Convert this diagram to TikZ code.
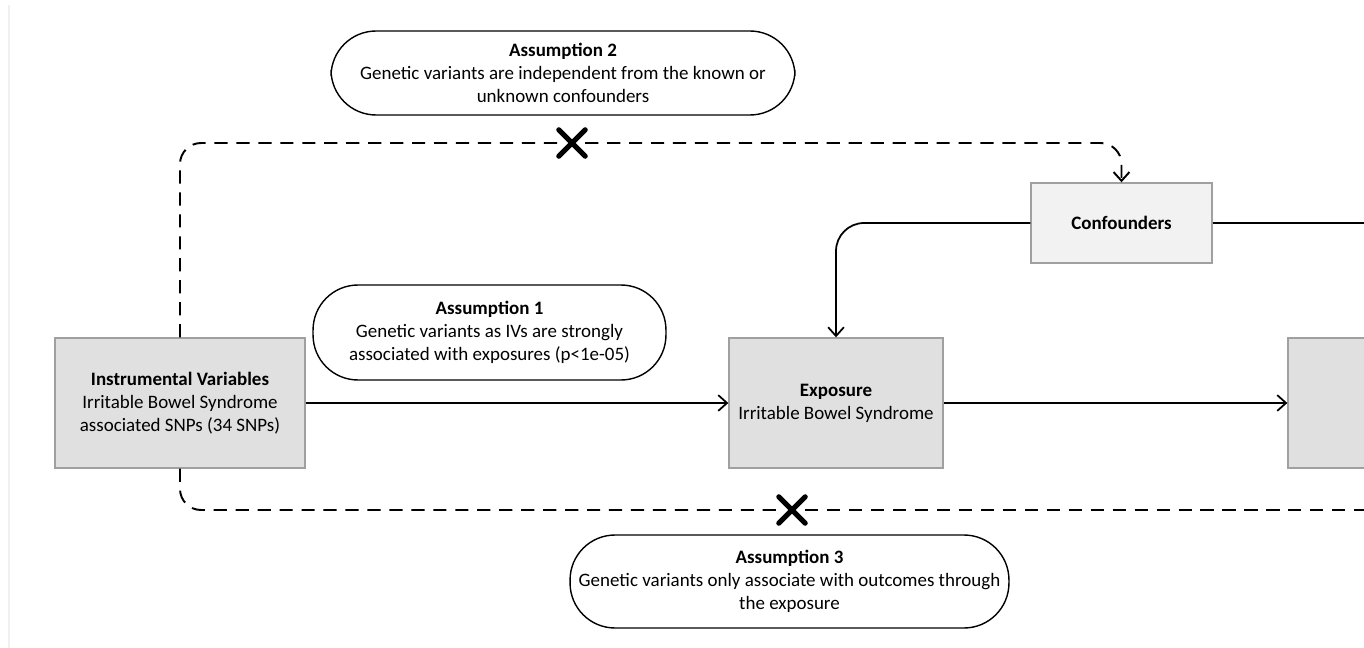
\documentclass[tikz,border=0pt]{standalone}
\usepackage{fontspec}
\setmainfont{Carlito}
\usepackage{tikz}
\usetikzlibrary{shapes.misc, arrows.meta, positioning, calc}
\definecolor{boxgray}{RGB}{224,224,224}
\definecolor{lightbox}{RGB}{242,242,242}
\definecolor{edgegray}{RGB}{160,160,160}

\begin{document}
\begin{tikzpicture}[x=0.02cm, y=-0.02cm, font=\fontsize{10.8}{13.2}\selectfont,
    varbox/.style={draw=edgegray, line width=0.8pt, fill=boxgray, align=center, inner sep=0pt},
    assumption/.style={draw, rectangle, rounded corners=0.9cm, line width=0.8pt, fill=white, align=center, inner sep=0pt},
    solidarrow/.style={line width=1pt, -{Straight Barb[length=5pt, width=9pt]}},
    dashline/.style={line width=1.1pt, dash pattern=on 7.5pt off 5pt, rounded corners=12pt},
    xmark/.style={draw, cross out, line width=3pt, line cap=round, minimum size=0.42cm, inner sep=0pt}]
    \useasboundingbox (0,0) rectangle (1364,648);
    \clip (0,0) rectangle (1364,648);
    % Page edge
    \draw[gray!12, line width=0.6pt] (9,5) -- (9,648);

    % Boxes
    \node[varbox, minimum width=5cm, minimum height=2.6cm] (iv) at (180,403)
        {\textbf{Instrumental Variables}\\Irritable Bowel Syndrome\\associated SNPs (34 SNPs)};
    \node[varbox, minimum width=4.28cm, minimum height=2.6cm] (exposure) at (836,403)
        {\textbf{Exposure}\\Irritable Bowel Syndrome};
    \node[varbox, minimum width=4.28cm, minimum height=2.6cm] (outcome) at (1395,403) {};
    \node[varbox, fill=lightbox, minimum width=3.62cm, minimum height=1.6cm] (confounders) at (1121.5,223)
        {\textbf{Confounders}};

    % Assumptions
    \node[assumption, minimum width=9.28cm, minimum height=1.68cm] (assume2) at (563,73)
        {\textbf{Assumption 2}\\Genetic variants are independent from the known or\\unknown confounders};
    \node[assumption, minimum width=7.06cm, minimum height=1.9cm] (assume1) at (489.5,332.5)
        {\textbf{Assumption 1}\\Genetic variants as IVs are strongly\\associated with exposures (p<1e-05)};
    \node[assumption, minimum width=8.78cm, minimum height=1.86cm] (assume3) at (789.5,581.5)
        {\textbf{Assumption 3}\\Genetic variants only associate with outcomes through\\the exposure};

    % Crosses
    \node[xmark] (cross2) at (572,143) {};
    \node[xmark] (cross3) at (792,510) {};
    \coordinate (rightend) at (1400,223);
    \coordinate (bottomend) at (1400,510);

    % Causal paths
    \draw[solidarrow] (iv.east) -- (exposure.west);
    \draw[solidarrow] (exposure.east) -- (outcome.west);
    \draw[solidarrow, rounded corners=16pt] (confounders.west) -| (exposure.north);
    \draw[line width=1pt] (confounders.east) -- (rightend);

    % Violated paths
    \draw[dashline] (iv.north) |- (cross2.west);
    \draw[dashline, -{Straight Barb[length=5pt, width=9pt]}] (cross2.east) -| (confounders.north);
    \draw[dashline] (iv.south) |- (cross3.west);
    \draw[dashline] (cross3.east) -- (bottomend);
\end{tikzpicture}
\end{document}
